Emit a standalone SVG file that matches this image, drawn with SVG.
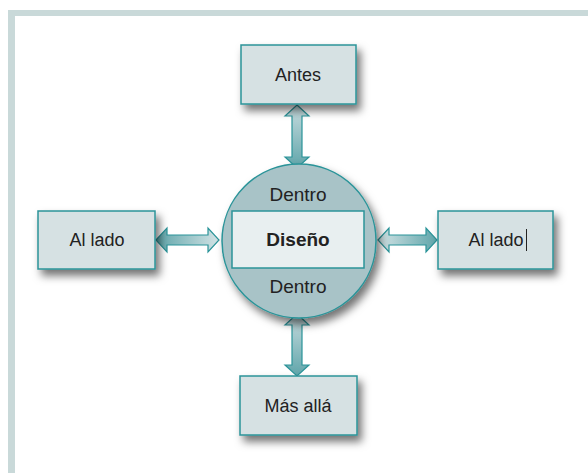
<svg xmlns="http://www.w3.org/2000/svg" width="588" height="473" viewBox="0 0 588 473">
  <defs>
    <filter id="sh" x="-20%" y="-20%" width="150%" height="160%">
      <feDropShadow dx="4" dy="6" stdDeviation="4" flood-color="#000" flood-opacity="0.55"/>
    </filter>
    <linearGradient id="gv" x1="0" y1="0" x2="0" y2="1">
      <stop offset="0" stop-color="#c9dcdf"/>
      <stop offset="1" stop-color="#5fa5aa"/>
    </linearGradient>
    <linearGradient id="gl" x1="0" y1="0" x2="1" y2="0">
      <stop offset="0" stop-color="#5fa5aa"/>
      <stop offset="1" stop-color="#d3e3e5"/>
    </linearGradient>
    <linearGradient id="gr" x1="0" y1="0" x2="1" y2="0">
      <stop offset="0" stop-color="#d3e3e5"/>
      <stop offset="1" stop-color="#5fa5aa"/>
    </linearGradient>
    <style>
      .box { fill: #d6e1e3; stroke: #2b9499; stroke-width: 1.5; }
      .t { font-family: "Liberation Sans", Arial, sans-serif; font-size: 18px; fill: #222; text-anchor: middle; }
      .c { font-size: 19px; }
      .b { font-weight: bold; }
      .arr { stroke: #2b9499; stroke-width: 1.2; stroke-linejoin: miter; }
    </style>
  </defs>
  <rect x="0" y="0" width="588" height="473" fill="#ffffff"/>
  <path d="M8,473 L8,10 L588,10 L588,16 L15,16 L15,473 Z" fill="#c9d9d9"/>

  <g id="connectors">
    <path class="arr" fill="url(#gv)" d="M297,105 L309,116 L302,116 L302,157 L309,157 L297,168 L285,157 L292,157 L292,116 L285,116 Z"/>
    <path class="arr" fill="url(#gv)" d="M297,314 L309,325 L302,325 L302,365 L309,365 L297,376 L285,365 L292,365 L292,325 L285,325 Z"/>
    <path class="arr" fill="url(#gl)" d="M156,240 L167,228 L167,235 L208,235 L208,228 L219,240 L208,252 L208,245 L167,245 L167,252 Z"/>
    <path class="arr" fill="url(#gr)" d="M378,240 L389,228 L389,235 L426,235 L426,228 L437,240 L426,252 L426,245 L389,245 L389,252 Z"/>
  </g>

  <g id="antes">
    <rect class="box" x="241" y="45" width="115" height="59" filter="url(#sh)"/>
    <text class="t" x="298" y="81">Antes</text>
  </g>

  <g id="al-lado-izq">
    <rect class="box" x="38" y="211" width="117" height="58" filter="url(#sh)"/>
    <text class="t" x="97" y="246">Al lado</text>
  </g>

  <g id="al-lado-der">
    <rect class="box" x="438" y="211" width="115" height="58" filter="url(#sh)"/>
    <text class="t" x="496" y="246">Al lado</text>
    <line x1="526.5" y1="229" x2="526.5" y2="251" stroke="#222" stroke-width="1"/>
  </g>

  <g id="mas-alla">
    <rect class="box" x="240" y="376" width="117" height="59" filter="url(#sh)"/>
    <text class="t" x="298" y="412">Más allá</text>
  </g>

  <g id="diseno">
    <circle cx="299" cy="241" r="77" fill="#a8c3c7" stroke="#2b9499" stroke-width="1.5" filter="url(#sh)"/>
    <rect x="232" y="211" width="132" height="57" fill="#e8eff0" stroke="#2b9499" stroke-width="1.5"/>
    <text class="t c" x="298" y="201">Dentro</text>
    <text class="t c b" x="298" y="246">Diseño</text>
    <text class="t c" x="298" y="293">Dentro</text>
  </g>
</svg>
